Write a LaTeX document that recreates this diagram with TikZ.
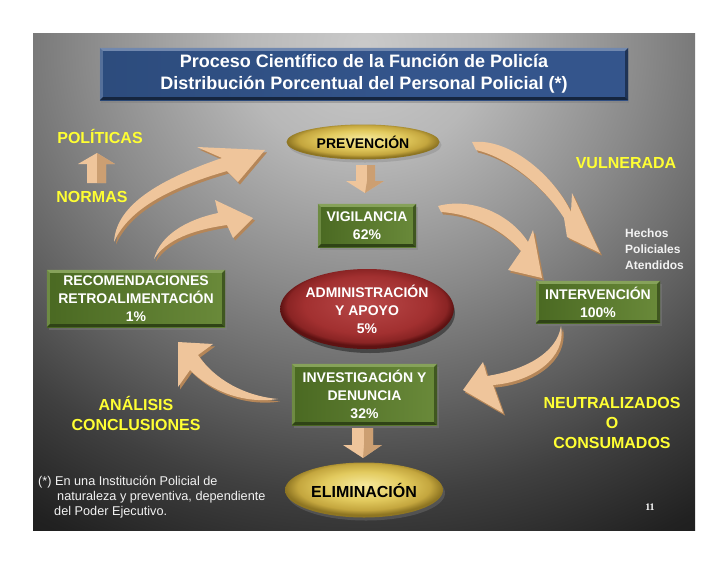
\documentclass[tikz,border=0pt]{standalone}
\usepackage{fontspec}
\setmainfont{Liberation Sans}
\newfontfamily\slidenum{Liberation Serif}
\usetikzlibrary{calc,shapes.geometric,shadows}
\definecolor{bgA}{gray}{0.79}
\definecolor{bgB}{gray}{0.72}
\definecolor{bgC}{gray}{0.54}
\definecolor{bgD}{gray}{0.38}
\definecolor{bgE}{gray}{0.25}
\definecolor{bgF}{gray}{0.13}
\definecolor{bgG}{gray}{0.07}
\definecolor{bgH}{gray}{0.04}
\definecolor{ttlA}{HTML}{264470}
\definecolor{ttlB}{HTML}{34558C}
\definecolor{ttlC}{HTML}{6674B8}
\definecolor{ttlD}{HTML}{BCBCF2}
\definecolor{grA}{HTML}{4A6922}
\definecolor{grB}{HTML}{6A8A3A}
\definecolor{grLight}{HTML}{86A25A}
\definecolor{grDark}{HTML}{2F4316}
\definecolor{goldA}{HTML}{F5E89A}
\definecolor{goldB}{HTML}{E2CA5E}
\definecolor{goldC}{HTML}{C4A63E}
\definecolor{goldD}{HTML}{8E7522}
\definecolor{redA}{HTML}{B84848}
\definecolor{redB}{HTML}{A23030}
\definecolor{redC}{HTML}{8A2424}
\definecolor{redD}{HTML}{5E1212}
\definecolor{arrowlight}{HTML}{EFC59B}
\definecolor{arrowdark}{HTML}{B58658}
\definecolor{labelyellow}{HTML}{FFFF33}
\definecolor{softwhite}{HTML}{F2F2F2}
\pgfdeclareradialshading{slidebg}{\pgfpoint{0bp}{0bp}}{color(0bp)=(bgA); color(3.8bp)=(bgB); color(8.6bp)=(bgC); color(12.5bp)=(bgD); color(15.5bp)=(bgE); color(19bp)=(bgF); color(22.5bp)=(bgG); color(25bp)=(bgH); color(50bp)=(bgH)}
\pgfdeclarehorizontalshading{titlesh}{100bp}{color(0bp)=(ttlA); color(55bp)=(ttlB); color(74bp)=(ttlB); color(90bp)=(ttlC); color(100bp)=(ttlD)}
\pgfdeclareradialshading{goldsh}{\pgfpoint{0bp}{5bp}}{color(0bp)=(goldA); color(13bp)=(goldB); color(21bp)=(goldC); color(25bp)=(goldD); color(50bp)=(goldD)}
\pgfdeclareradialshading{redsh}{\pgfpoint{0bp}{4bp}}{color(0bp)=(redA); color(18bp)=(redB); color(23bp)=(redC); color(25bp)=(redD); color(50bp)=(redD)}
\newcommand\bevel[4]{%
  \fill[#3] (#1.north west) -- (#1.north east) -- ([shift={(-#2,-#2)}]#1.north east) -- ([shift={(#2,-#2)}]#1.north west) -- cycle;
  \fill[#3,opacity=.6] (#1.north west) -- ([shift={(#2,-#2)}]#1.north west) -- ([shift={(#2,#2)}]#1.south west) -- (#1.south west) -- cycle;
  \fill[#4] (#1.south west) -- ([shift={(#2,#2)}]#1.south west) -- ([shift={(-#2,#2)}]#1.south east) -- (#1.south east) -- cycle;
  \fill[#4,opacity=.7] (#1.north east) -- ([shift={(-#2,-#2)}]#1.north east) -- ([shift={(-#2,#2)}]#1.south east) -- (#1.south east) -- cycle;
}
\newcommand\solidarrow[1]{\fill[arrowdark, shift={(2,2.5)}] #1; \fill[arrowlight] #1;}
\begin{document}
\begin{tikzpicture}[x=1pt,y=-1pt,
  greenbox/.style={rectangle, inner sep=0pt, left color=grA, right color=grB, text=white,
    font=\bfseries\fontsize{14}{18}\selectfont, align=center,
    drop shadow={shadow xshift=2pt, shadow yshift=-3pt, opacity=.45}},
  goldell/.style={ellipse, inner sep=0pt, shade, shading=goldsh, text=black, align=center,
    drop shadow={shadow xshift=2pt, shadow yshift=-3pt, opacity=.35}},
  ylabel/.style={text=labelyellow, font=\bfseries\fontsize{16}{20}\selectfont, align=center, inner sep=0pt},
  smalltext/.style={text=softwhite, font=\bfseries\fontsize{12}{16}\selectfont, align=left, inner sep=0pt}]
\useasboundingbox (0,0) rectangle (728,563);
\fill[white] (0,0) rectangle (728,563);
\begin{scope}
  \clip (33,33) rectangle (695,530);
  \fill[bgH] (33,33) rectangle (695,530);
  \shade[shading=slidebg] (364,45) ellipse [x radius=812, y radius=728];
\end{scope}

% title
\node[rectangle, minimum width=528pt, minimum height=52pt, shade, shading=titlesh, text=white,
  font=\bfseries\fontsize{18}{22}\selectfont, align=center,
  drop shadow={shadow xshift=1pt, shadow yshift=-3pt, opacity=.5}] (title) at (364,74)
  {Proceso Científico de la Función de Policía\\Distribución Porcentual del Personal Policial (*)};
\bevel{title}{3pt}{white!30!ttlB}{black!45!ttlA}

% central column
\node[goldell, minimum width=153pt, minimum height=35pt, font=\bfseries\fontsize{14}{17}\selectfont] (prev) at (363,142) {PREVENCIÓN};
\node[greenbox, minimum width=98pt, minimum height=43pt] (vig) at (367,225.5) {VIGILANCIA\\62\%};
\bevel{vig}{3pt}{grLight}{grDark}
\fill[black, opacity=.4] (370,313) ellipse [x radius=85, y radius=40];
\node[ellipse, inner sep=0pt, minimum width=170pt, minimum height=80pt, shade, shading=redsh, text=white,
  font=\bfseries\fontsize{14}{18}\selectfont, align=center] (admin) at (367,309) {ADMINISTRACIÓN\\Y APOYO\\5\%};
\node[greenbox, minimum width=145pt, minimum height=61pt] (inv) at (364.5,394.5) {INVESTIGACIÓN Y\\DENUNCIA\\32\%};
\bevel{inv}{3pt}{grLight}{grDark}
\node[goldell, minimum width=158pt, minimum height=55pt, font=\bfseries\fontsize{16}{19}\selectfont] (elim) at (364,490) {ELIMINACIÓN};

% straight block arrows
\fill[arrowlight] (356,165) -- (375,165) -- (375,181) -- (384,181) -- (365,193) -- (346,181) -- (356,181) -- cycle;
\fill[arrowdark, opacity=.6] (367,165) -- (375,165) -- (375,181) -- (384,181) -- (365,193) -- (367,181) -- cycle;
\fill[arrowlight] (352,428) -- (373,428) -- (373,445) -- (382,445) -- (363,458) -- (343,445) -- (352,445) -- cycle;
\fill[arrowdark, opacity=.6] (364,428) -- (373,428) -- (373,445) -- (382,445) -- (363,458) -- (364,445) -- cycle;
\fill[arrowlight] (97,153) -- (115,164) -- (106,164) -- (106,183) -- (87,183) -- (87,164) -- (78,164) -- cycle;
\fill[arrowdark, opacity=.6] (97,153) -- (115,164) -- (106,164) -- (106,183) -- (97,183) -- cycle;

% side boxes
\node[greenbox, minimum width=178pt, minimum height=57pt] (rec) at (136,298.5) {RECOMENDACIONES\\RETROALIMENTACIÓN\\1\%};
\bevel{rec}{3pt}{grLight}{grDark}
\node[greenbox, minimum width=124pt, minimum height=42pt] (intv) at (598,302) {INTERVENCIÓN\\100\%};
\bevel{intv}{3pt}{grLight}{grDark}

% curved arrows
\solidarrow{(114,242) .. controls (116,208) and (152,182) .. (222,158) -- (197,147) -- (265,150) -- (238,182) -- (227,171) .. controls (168,188) and (128,210) .. (114,242) -- cycle}
\solidarrow{(154,259) .. controls (160,236) and (185,220) .. (218,213) -- (215,200) -- (253,218) -- (233,238) -- (227,225) .. controls (192,230) and (166,240) .. (154,259) -- cycle}
\solidarrow{(472,142) .. controls (512,138) and (555,178) .. (571,212) -- (572,193) -- (600,253) -- (567,237) -- (564,218) .. controls (545,188) and (510,158) .. (476,150) -- cycle}
\solidarrow{(438,206) .. controls (472,197) and (510,214) .. (528,242) -- (533,230) -- (542,278) -- (508,270) -- (521,251) .. controls (505,232) and (475,214) .. (441,212) -- cycle}
\solidarrow{(561,326) .. controls (557,353) and (525,370) .. (487,376) -- (483,362) -- (463,390) -- (503,413) -- (493,385) .. controls (532,382) and (567,358) .. (561,326) -- cycle}
\solidarrow{(278,399) .. controls (245,396) and (215,380) .. (198,355) -- (213,344) -- (178,342) -- (178,387) -- (190,370) .. controls (212,392) and (245,404) .. (278,399) -- cycle}

% labels
\node[ylabel] (pol) at (100,136) {POLÍTICAS};
\node[ylabel] (norm) at (92,197) {NORMAS};
\node[ylabel] (vul) at (626,163) {VULNERADA};
\node[ylabel] (ana) at (136,413) {ANÁLISIS\\CONCLUSIONES};
\node[ylabel] (neu) at (612,423) {NEUTRALIZADOS\\O\\CONSUMADOS};
\node[smalltext, anchor=west] (hech) at (625,249) {Hechos\\Policiales\\Atendidos};
\node[text=softwhite, font=\fontsize{12.7}{15}\selectfont, align=left, inner sep=0pt, anchor=north west] (foot) at (38,476)
  {(*) En una Institución Policial de\\\hspace*{19pt}naturaleza y preventiva, dependiente\\\hspace*{16pt}del Poder Ejecutivo.};
\node[text=white, font=\slidenum\bfseries\fontsize{10}{12}\selectfont, inner sep=0pt] (pg) at (650,507) {11};
\end{tikzpicture}
\end{document}
